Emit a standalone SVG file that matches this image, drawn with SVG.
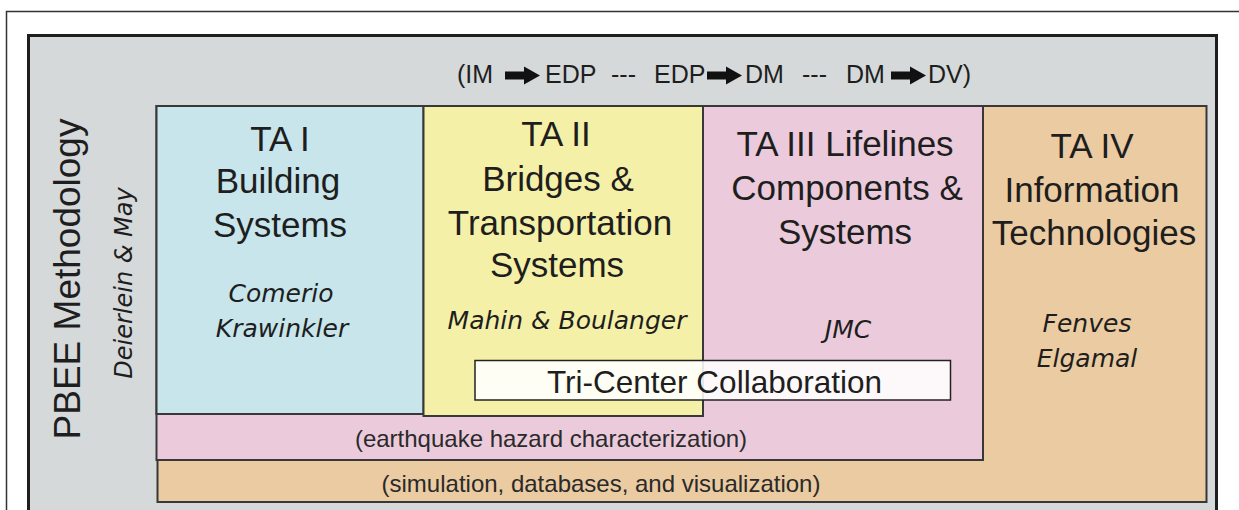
<svg xmlns="http://www.w3.org/2000/svg" width="1239" height="510" viewBox="0 0 1239 510">
<style>
.box{stroke:#383838;stroke-width:2}
.t{font-family:"Liberation Sans",Arial,sans-serif;fill:#1e1e1e;text-anchor:middle}
.big{font-size:35px}
.it{font-family:"DejaVu Sans",Verdana,sans-serif;font-style:italic;font-size:25px;fill:#1e1e1e;text-anchor:middle}
.sm{font-family:"Liberation Sans",Arial,sans-serif;font-size:24px;fill:#2a2a2a;text-anchor:middle}
.f{font-family:"Liberation Sans",Arial,sans-serif;font-size:25px;fill:#1e1e1e}
.arr{fill:#111}
</style>
<path d="M6.5 515 V11.5 H1245" fill="none" stroke="#333" stroke-width="1.5"/>
<g id="frame">
<rect x="28.5" y="35.5" width="1188" height="500" fill="#d5d9da" stroke="#1e1e1e" stroke-width="3"/>
</g>
<g id="formula">
<text class="f" x="457" y="83">(IM</text>
<path class="arr" d="M505 71.5 H524 V66.5 L540 75.5 L524 84.5 V79.5 H505 Z"/>
<text class="f" x="545" y="83">EDP</text>
<text class="f" x="611" y="83">---</text>
<text class="f" x="654" y="83">EDP</text>
<path class="arr" d="M707 71.5 H726 V66.5 L742 75.5 L726 84.5 V79.5 H707 Z"/>
<text class="f" x="745" y="83">DM</text>
<text class="f" x="802" y="83">---</text>
<text class="f" x="846" y="83">DM</text>
<path class="arr" d="M891 71.5 H910 V66.5 L926 75.5 L910 84.5 V79.5 H891 Z"/>
<text class="f" x="928" y="83">DV)</text>
</g>
<g id="pbee">
<text class="t" style="font-size:37px" transform="translate(80,279) rotate(-90)">PBEE Methodology</text>
<text class="it" style="font-size:24px" transform="translate(132,283) rotate(-90)">Deierlein &amp; May</text>
</g>
<g id="ta4">
<rect class="box" x="157.5" y="106" width="1049" height="396" fill="#ebcba1"/>
<text class="t big" x="1092" y="158">TA IV</text>
<text class="t big" x="1092" y="202">Information</text>
<text class="t big" x="1094" y="245">Technologies</text>
<text class="it" x="1087" y="332">Fenves</text>
<text class="it" x="1087" y="367">Elgamal</text>
<text class="sm" x="601" y="492">(simulation, databases, and visualization)</text>
</g>
<g id="ta3">
<rect class="box" x="156.5" y="106" width="826.5" height="354" fill="#ebcbdb"/>
<text class="t big" x="845" y="156">TA III Lifelines</text>
<text class="t big" x="847" y="200">Components &amp;</text>
<text class="t big" x="845" y="244">Systems</text>
<text class="it" x="848" y="338">JMC</text>
<text class="sm" x="551" y="447">(earthquake hazard characterization)</text>
</g>
<g id="ta1">
<rect class="box" x="156.5" y="106" width="267" height="308" fill="#c7e5ea"/>
<text class="t big" x="280" y="151">TA I</text>
<text class="t big" x="278" y="193">Building</text>
<text class="t big" x="280" y="237">Systems</text>
<text class="it" x="281" y="302">Comerio</text>
<text class="it" x="282" y="337">Krawinkler</text>
</g>
<g id="ta2">
<rect class="box" x="423.5" y="106" width="279.5" height="310" fill="#f5f0a8"/>
<text class="t big" x="556" y="146">TA II</text>
<text class="t big" x="558" y="191">Bridges &amp;</text>
<text class="t big" x="560" y="235">Transportation</text>
<text class="t big" x="557" y="277">Systems</text>
<text class="it" x="567" y="329">Mahin &amp; Boulanger</text>
</g>
<g id="tricenter">
<rect x="475" y="360.5" width="475.5" height="39.5" fill="#ffffff" fill-opacity="0.88" stroke="#222" stroke-width="1.5"/>
<text class="t" style="font-size:31.5px" x="714.5" y="393">Tri-Center Collaboration</text>
</g>
</svg>
